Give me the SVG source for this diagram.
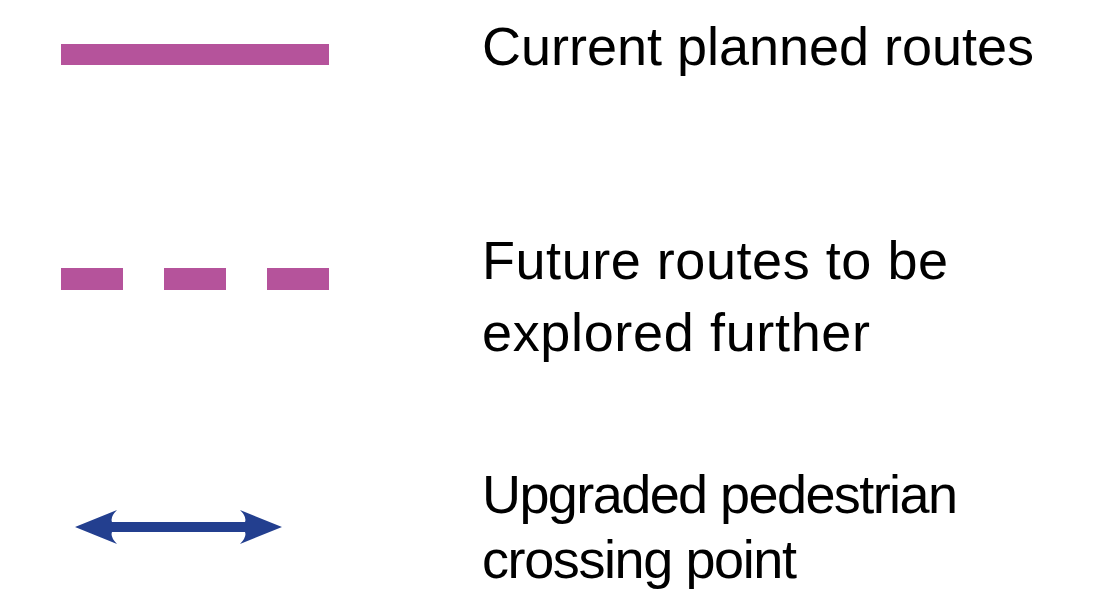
<svg xmlns="http://www.w3.org/2000/svg" width="1113" height="593" viewBox="0 0 1113 593">
<style>
.route{fill:#B5539B}
.cross{fill:#233F8F}
.lbl{font-family:"Liberation Sans",Arial,Helvetica,sans-serif;font-size:54px;fill:#000}
</style>
<rect width="1113" height="593" fill="#fff"/>
<g id="connectors">
<g id="current-route"><rect class="route" x="61" y="44" width="268" height="21"/></g>
<g id="future-route">
<rect class="route" x="61" y="268" width="62" height="22"/>
<rect class="route" x="164" y="268" width="62" height="22"/>
<rect class="route" x="267" y="268" width="62" height="22"/>
</g>
<g id="crossing-arrow"><path class="cross" d="M75,527 L117,510 Q110,517 112,522 L245,522 Q247,517 240,510 L282,527 L240,544 Q247,537 245,532 L112,532 Q110,537 117,544 Z"/></g>
</g>
<g id="label-current"><text class="lbl" x="482" y="65" textLength="552" lengthAdjust="spacing">Current planned routes</text></g>
<g id="label-future"><text class="lbl" x="482" y="279" textLength="466" lengthAdjust="spacing">Future routes to be</text><text class="lbl" x="482" y="351" textLength="388" lengthAdjust="spacing">explored further</text></g>
<g id="label-crossing"><text class="lbl" x="482" y="513" textLength="476" lengthAdjust="spacing">Upgraded pedestrian</text><text class="lbl" x="482" y="578" textLength="315" lengthAdjust="spacing">crossing point</text></g>
</svg>
